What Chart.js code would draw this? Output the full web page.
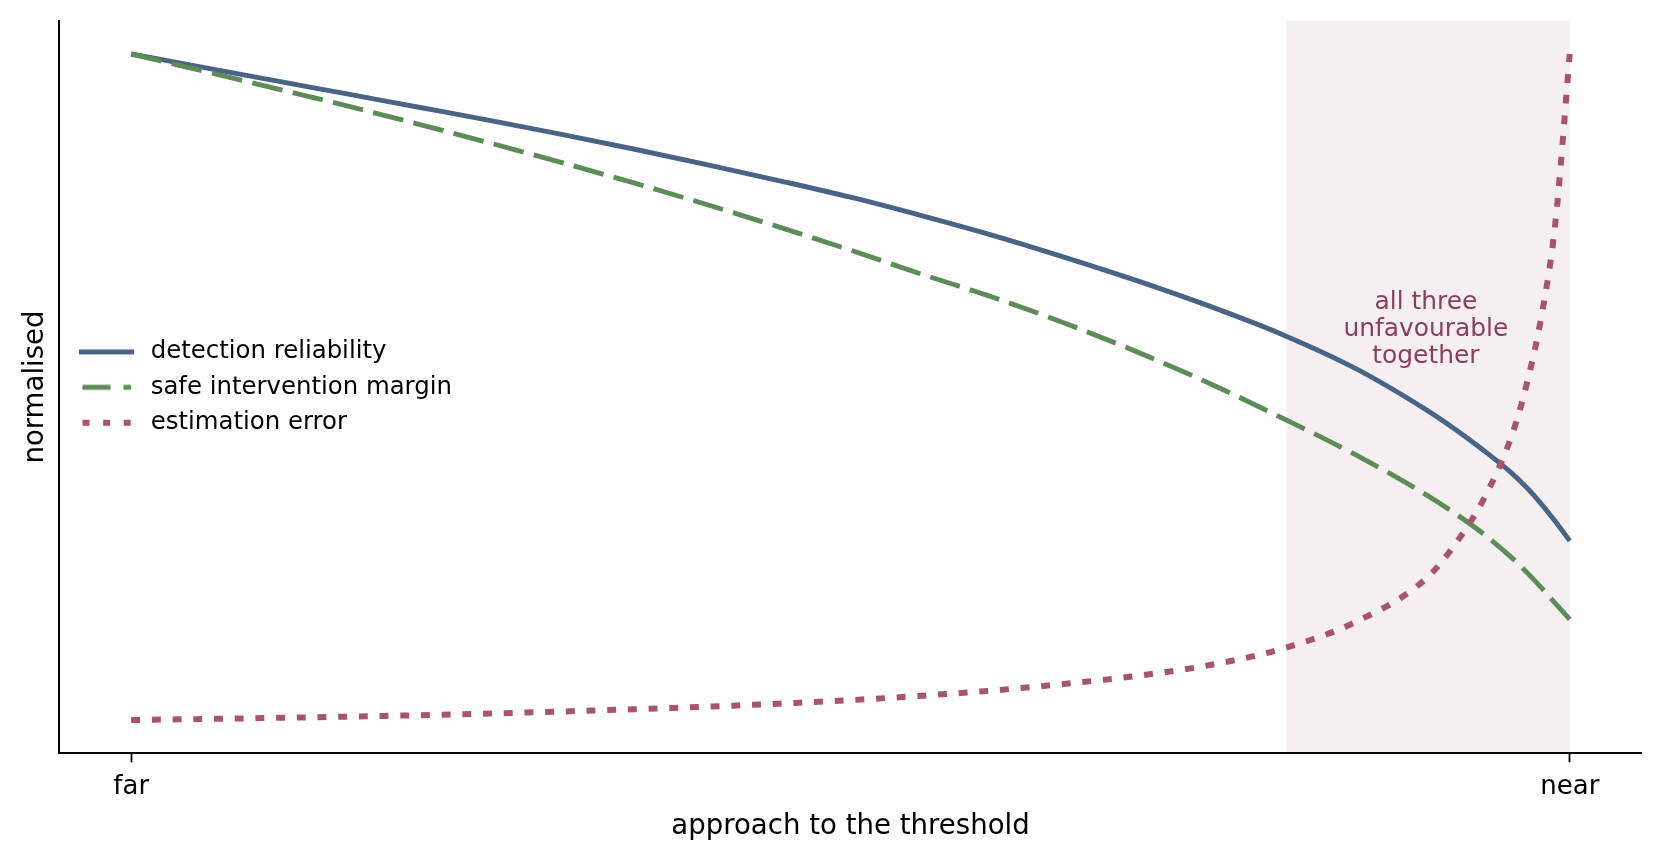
<!DOCTYPE html>
<html>
<head>
<meta charset="utf-8">
<script src="https://cdn.jsdelivr.net/npm/chart.js@4/dist/chart.umd.min.js"></script>
<style>
    html, body { margin: 0; padding: 0; background: #ffffff; }
    #wrap { width: 1662px; height: 861px; }
</style>
</head>
<body>
<div id="wrap"><canvas id="chart" width="1662" height="861"></canvas></div>
<script>
// position along the approach, 0 = far, 1 = near
let xPositions = [0, 0.05, 0.1, 0.15, 0.2, 0.25, 0.3, 0.35, 0.4, 0.45, 0.5, 0.55, 0.6, 0.65, 0.7, 0.75, 0.8, 0.85, 0.9, 0.92, 0.94, 0.96, 0.97, 0.98, 0.99, 1];

// normalised values
let detectionReliability = [1.0, 0.980, 0.960, 0.940, 0.920, 0.900, 0.879, 0.857, 0.834, 0.810, 0.785, 0.757, 0.727, 0.694, 0.659, 0.621, 0.579, 0.529, 0.466, 0.437, 0.405, 0.370, 0.349, 0.325, 0.298, 0.269];
let safeMargin = [1.0, 0.9745, 0.9485, 0.922, 0.8945, 0.866, 0.8365, 0.806, 0.774, 0.7405, 0.7055, 0.669, 0.634, 0.595, 0.552, 0.505, 0.4535, 0.3995, 0.3385, 0.3105, 0.2795, 0.243, 0.222, 0.199, 0.175, 0.151];
let estimationError = [0, 0.0015, 0.0032, 0.005, 0.0072, 0.0097, 0.0128, 0.0162, 0.020, 0.0245, 0.0298, 0.0365, 0.0445, 0.0545, 0.0665, 0.0825, 0.107, 0.146, 0.212, 0.263, 0.331, 0.429, 0.504, 0.603, 0.747, 1.0];

let seriesNames = ["detection reliability", "safe intervention margin", "estimation error"];

// x ticks
let tickValues = [0, 1];
let tickLabels = ["far", "near"];

// shaded zone and its note
let zoneStart = 0.803;
let zoneEnd = 1.0;
let zoneNote = ["all three", "unfavourable", "together"];
let noteAt = { x: 0.9, y: 0.586 };

const FONT = "'DejaVu Sans', 'Noto Sans', sans-serif";
const COLORS = ["#4a6485", "#5e8c59", "#a8546f"];
const WIDTHS = [4.9, 4.9, 6.0];
const DASHES = [[], [31, 10.5], [8.9, 11.8]];

function toPoints(values) {
    return values.map((v, i) => ({ x: xPositions[i], y: v }));
}

// small line samples for the legend (dashes included)
function legendSample(i) {
    const c = document.createElement("canvas");
    c.width = 55;
    c.height = 10;
    const g = c.getContext("2d");
    g.strokeStyle = COLORS[i];
    g.lineWidth = WIDTHS[i];
    g.lineCap = "butt";
    if (i === 1) g.setLineDash([28, 13]);
    if (i === 2) g.setLineDash([7, 13.6]);
    g.beginPath();
    g.moveTo(i === 0 ? 0 : 3.5, 5);
    g.lineTo(i === 0 ? 55 : 52, 5);
    g.stroke();
    return c;
}
const legendSamples = [0, 1, 2].map(legendSample);

// shaded band behind everything (drawn before the axes) and the note inside it
const zonePlugin = {
    id: "zone",
    beforeDraw(chart) {
        const { ctx, chartArea, scales } = chart;
        const x0 = scales.x.getPixelForValue(zoneStart);
        const x1 = scales.x.getPixelForValue(zoneEnd);
        ctx.save();
        ctx.fillStyle = "#f5eff2";
        ctx.fillRect(x0, chartArea.top, x1 - x0, chartArea.bottom - chartArea.top - 1);
        ctx.restore();
    },
    afterDatasetsDraw(chart) {
        const { ctx, scales } = chart;
        const cx = scales.x.getPixelForValue(noteAt.x);
        const cy = scales.y.getPixelForValue(noteAt.y);
        ctx.save();
        ctx.fillStyle = "#8c3d5f";
        ctx.font = "24.9px " + FONT;
        ctx.textAlign = "center";
        ctx.textBaseline = "middle";
        for (let i = 0; i < zoneNote.length; i++) {
            ctx.fillText(zoneNote[i], cx, cy + (i - 1) * 26.7);
        }
        ctx.restore();
    }
};

// put the legend box where it sits in the plot (left, middle)
const legendPlacePlugin = {
    id: "legendPlace",
    afterLayout(chart) {
        const lg = chart.legend;
        if (!lg) return;
        lg.left = 63.5;
        lg.right = lg.left + lg.width;
        lg.top = 302;
        lg.bottom = 472.6;
        lg.height = lg.bottom - lg.top;
    }
};

window.onload = () => {
    const canvas = document.getElementById("chart");
    const series = [detectionReliability, safeMargin, estimationError];

    const datasets = series.map((values, i) => ({
        label: seriesNames[i],
        data: toPoints(values),
        borderColor: COLORS[i],
        backgroundColor: COLORS[i],
        borderWidth: WIDTHS[i],
        borderDash: DASHES[i],
        order: 3 - i // estimation error drawn on top
    }));

    new Chart(canvas, {
        type: "line",
        data: { datasets: datasets },
        options: {
            responsive: false,
            animation: false,
            devicePixelRatio: 1,
            elements: {
                point: { radius: 0, hoverRadius: 0 },
                line: { cubicInterpolationMode: "monotone", borderCapStyle: "butt", fill: false }
            },
            layout: { padding: { top: 20.7, right: 20.3, left: 0, bottom: 0 } },
            plugins: {
                tooltip: { enabled: false },
                legend: {
                    position: "chartArea",
                    align: "center",
                    labels: {
                        usePointStyle: true,
                        pointStyleWidth: 64,
                        boxHeight: 24,
                        padding: 11,
                        color: "#000000",
                        font: { family: FONT, size: 24.4 },
                        sort: (a, b) => a.datasetIndex - b.datasetIndex,
                        generateLabels(chart) {
                            const items = Chart.defaults.plugins.legend.labels.generateLabels(chart);
                            items.forEach((it) => {
                                it.pointStyle = legendSamples[it.datasetIndex];
                            });
                            return items;
                        }
                    }
                }
            },
            scales: {
                x: {
                    type: "linear",
                    min: -0.05,
                    max: 1.05,
                    afterFit(scale) { scale.height = 107.7; },
                    afterBuildTicks(axis) {
                        axis.ticks = tickValues.map((v) => ({ value: v }));
                    },
                    ticks: {
                        color: "#000000",
                        font: { family: FONT, size: 26 },
                        padding: 9,
                        maxRotation: 0,
                        autoSkip: false,
                        callback: (v) => {
                            const i = tickValues.indexOf(v);
                            return i >= 0 ? tickLabels[i] : "";
                        }
                    },
                    grid: {
                        display: true,
                        drawOnChartArea: false,
                        drawTicks: true,
                        tickLength: 9,
                        tickWidth: 1.8,
                        tickColor: "#000000"
                    },
                    border: { display: true, color: "#000000", width: 2 },
                    title: {
                        display: true,
                        text: "approach to the threshold",
                        color: "#000000",
                        font: { family: FONT, size: 27.6 },
                        padding: { top: 0, bottom: 18 }
                    }
                },
                y: {
                    type: "linear",
                    min: -0.05,
                    max: 1.05,
                    afterFit(scale) { scale.width = 59.3; },
                    ticks: { display: false },
                    grid: { display: false },
                    border: { display: true, color: "#000000", width: 2 },
                    title: {
                        display: true,
                        text: "normalised",
                        color: "#000000",
                        font: { family: FONT, size: 27.6 },
                        padding: { top: 19.4, bottom: 0 }
                    }
                }
            }
        },
        plugins: [zonePlugin, legendPlacePlugin]
    });
};
</script>
</body>
</html>
